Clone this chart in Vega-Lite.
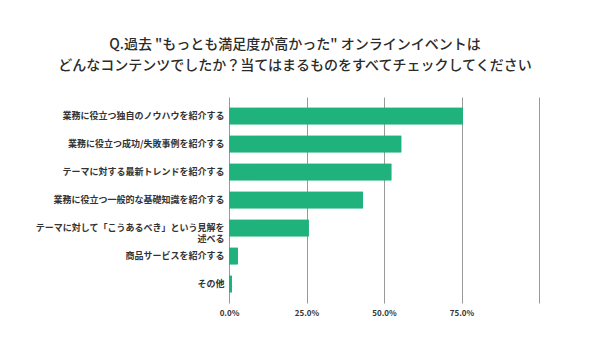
{
  "$schema": "https://vega.github.io/schema/vega-lite/v6.json",
  "width": 310,
  "height": 206,
  "autosize": {"type": "none"},
  "padding": {"left": 229, "top": 97, "right": 51, "bottom": 48},
  "background": "white",
  "title": {
    "text": ["Q.過去 \"もっとも満足度が高かった\" オンラインイベントは", "どんなコンテンツでしたか？当てはまるものをすべてチェックしてください"],
    "font": "Noto Sans CJK JP",
    "fontSize": 14,
    "fontWeight": 500,
    "color": "#2b2b2b",
    "lineHeight": 21,
    "anchor": "middle",
    "dx": -89,
    "offset": 24
  },
  "data": {
    "values": [
      {"item": "業務に役立つ独自のノウハウを紹介する", "pct": 0.755},
      {"item": "業務に役立つ成功/失敗事例を紹介する", "pct": 0.557},
      {"item": "テーマに対する最新トレンドを紹介する", "pct": 0.525},
      {"item": "業務に役立つ一般的な基礎知識を紹介する", "pct": 0.433},
      {"item": "テーマに対して「こうあるべき」という見解を述べる", "pct": 0.258},
      {"item": "商品サービスを紹介する", "pct": 0.029},
      {"item": "その他", "pct": 0.01}
    ]
  },
  "mark": {"type": "bar", "color": "#20b27c", "cornerRadiusEnd": 1},
  "encoding": {
    "y": {
      "field": "item",
      "type": "nominal",
      "sort": null,
      "scale": {"paddingInner": 0.38, "paddingOuter": 0.37},
      "axis": {
        "title": null,
        "ticks": false,
        "domain": false,
        "labelFont": "Noto Sans CJK JP",
        "labelFontSize": 9,
        "labelFontWeight": "bold",
        "labelColor": "#333333",
        "labelPadding": 5,
        "labelLimit": 240,
        "labelLineHeight": 11.5,
        "labelExpr": "datum.value == 'テーマに対して「こうあるべき」という見解を述べる' ? ['テーマに対して「こうあるべき」という見解を', '述べる'] : datum.value"
      }
    },
    "x": {
      "field": "pct",
      "type": "quantitative",
      "scale": {"domain": [0, 1], "nice": false},
      "axis": {
        "title": null,
        "values": [0, 0.25, 0.5, 0.75, 1],
        "format": ".1%",
        "labelExpr": "datum.value < 1 ? datum.label : ''",
        "labelFlush": false,
        "grid": true,
        "gridColor": "#999999",
        "gridWidth": 1,
        "domain": false,
        "ticks": false,
        "labelFont": "Noto Sans CJK JP",
        "labelFontSize": 8,
        "labelFontWeight": "bold",
        "labelColor": "#333333",
        "labelPadding": 6
      }
    }
  },
  "config": {"view": {"stroke": null}}
}
